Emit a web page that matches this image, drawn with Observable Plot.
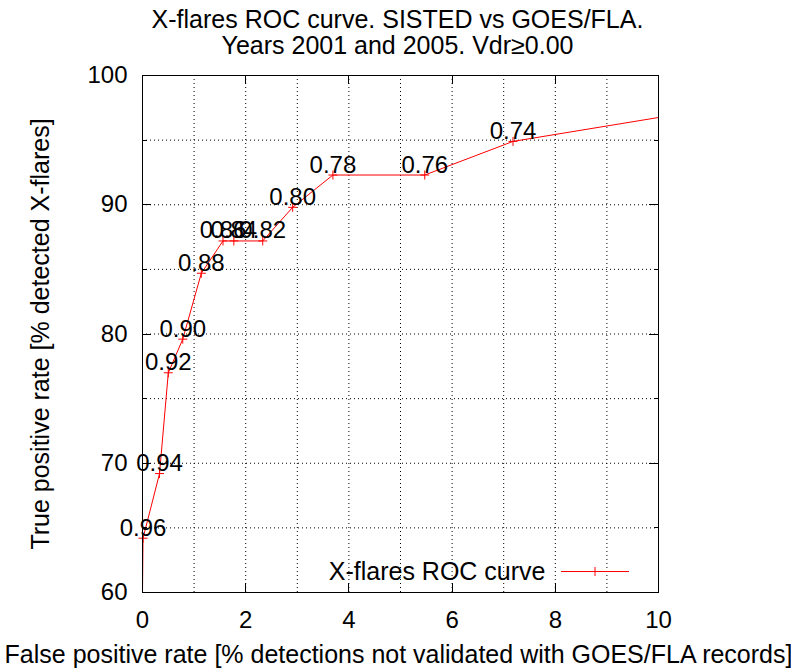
<!DOCTYPE html>
<html>
<head>
<meta charset="utf-8">
<script src="https://cdn.jsdelivr.net/npm/d3@7"></script>
<script src="https://cdn.jsdelivr.net/npm/@observablehq/plot@0.6"></script>
<style>
  html, body { margin: 0; padding: 0; background: white; }
  svg text { font-family: "Liberation Sans", Arial, Helvetica, sans-serif; }
</style>
</head>
<body>
<div id="chart"></div>
<script>
// ---- data ----
const thresholdLabels = [null, "0.96", "0.94", "0.92", "0.90", "0.88", "0.86", "0.84", "0.82", "0.80", "0.78", "0.76", "0.74", null];
const falsePositiveRate = [0, 0.01, 0.33, 0.50, 0.78, 1.14, 1.56, 1.77, 2.33, 2.91, 3.69, 5.47, 7.18, 10];
const truePositiveRate = [60, 64.2, 69.2, 77.0, 79.6, 84.7, 87.2, 87.2, 87.2, 89.8, 92.3, 92.3, 94.9, 96.75];

const xTicks = [0, 2, 4, 6, 8, 10];
const xGrid = [1, 2, 3, 4, 5, 6, 7, 8, 9];
const yTicks = [60, 70, 80, 90, 100];
const yMinorTicks = [65, 75, 85, 95];
const yGrid = [65, 70, 75, 80, 85, 90, 95];

const titleText = "X-flares ROC curve. SISTED vs GOES/FLA.\nYears 2001 and 2005. Vdr\u22650.00";
const xLabel = "False positive rate [% detections not validated with GOES/FLA records]";
const yLabel = "True positive rate [% detected X-flares]";
const legendLabel = "X-flares ROC curve";

const points = falsePositiveRate.map((x, i) => ({x, y: truePositiveRate[i], label: thresholdLabels[i]}));
const labelled = points.filter(d => d.label);

const plusSymbol = {
  draw(context, size) {
    const r = Math.sqrt(size / Math.PI);
    context.moveTo(-r, 0); context.lineTo(r, 0);
    context.moveTo(0, -r); context.lineTo(0, r);
  }
};

const FONT = "Liberation Sans, Arial, Helvetica, sans-serif";

const chart = Plot.plot({
  width: 791,
  height: 670,
  marginTop: 75,
  marginBottom: 78,
  marginLeft: 142,
  marginRight: 133,
  style: {fontFamily: FONT, background: "white", color: "black"},
  x: {domain: [0, 10]},
  y: {domain: [60, 100]},
  marks: [
    Plot.gridX(xGrid, {stroke: "black", strokeOpacity: 1, strokeWidth: 1, strokeDasharray: "1,3"}),
    Plot.gridY(yGrid, {stroke: "black", strokeOpacity: 1, strokeWidth: 1, strokeDasharray: "1,3"}),
    Plot.axisX({ticks: xTicks, tickSize: 0, tickPadding: 18, fontSize: 24, label: null, tickFormat: d => String(d)}),
    Plot.axisY({ticks: yTicks, tickSize: 0, tickPadding: 15, fontSize: 24, label: null, tickFormat: d => String(d)}),
    Plot.line(points, {x: "x", y: "y", stroke: "red", strokeWidth: 1}),
    Plot.dot(labelled, {x: "x", y: "y", symbol: plusSymbol, r: 4.5, stroke: "red", fill: "none", strokeWidth: 1}),
    Plot.text(labelled, {x: "x", y: "y", text: "label", lineAnchor: "bottom", dy: -2.5, fontSize: 24, fill: "black"}),
    Plot.frame({stroke: "black", strokeWidth: 1}),
    Plot.text([titleText], {frameAnchor: "top", lineAnchor: "bottom", dy: -22, dx: -3, lineHeight: 1.04, fontSize: 25, fill: "black"}),
    Plot.text([xLabel], {frameAnchor: "bottom", lineAnchor: "bottom", dy: 70, dx: -2, fontSize: 25, fill: "black"}),
    Plot.text([yLabel], {frameAnchor: "left", rotate: -90, textAnchor: "middle", lineAnchor: "middle", dx: -102, fontSize: 25, fill: "black"}),
    Plot.text([legendLabel], {frameAnchor: "bottom-right", textAnchor: "end", lineAnchor: "middle", dx: -113, dy: -21, fontSize: 25, fill: "black"})
  ]
});

// inward tick marks on all four sides, positioned through the plot's scales
const sx = chart.scale("x"), sy = chart.scale("y");
const [x0, x1] = sx.range, [y0, y1] = sy.range; // y0 bottom, y1 top
const svg = d3.select(chart);
const g = svg.append("g").attr("stroke", "black").attr("stroke-width", 1).attr("shape-rendering", "crispEdges");
const major = 9, minor = 4.5;
for (const t of xTicks) {
  const px = Math.round(sx.apply(t)) + 0.5;
  g.append("line").attr("x1", px).attr("x2", px).attr("y1", y0).attr("y2", y0 - major);
  g.append("line").attr("x1", px).attr("x2", px).attr("y1", y1).attr("y2", y1 + major);
}
for (const [list, len] of [[yTicks, major], [yMinorTicks, minor]]) {
  for (const t of list) {
    const py = Math.round(sy.apply(t)) + 0.5;
    g.append("line").attr("y1", py).attr("y2", py).attr("x1", x0).attr("x2", x0 + len);
    g.append("line").attr("y1", py).attr("y2", py).attr("x1", x1).attr("x2", x1 - len);
  }
}
// legend sample (line with plus marker), relative to the frame's bottom-right corner
const ly = y0 - 21 + 0.5;
const lg = svg.append("g").attr("stroke", "red").attr("stroke-width", 1).attr("fill", "none");
lg.append("line").attr("x1", x1 - 97).attr("x2", x1 - 29).attr("y1", ly).attr("y2", ly);
lg.append("path").attr("d", `M${x1 - 63 - 4.5},${ly}h9M${x1 - 63},${ly - 4.5}v9`);

document.getElementById("chart").appendChild(chart);
</script>
</body>
</html>
